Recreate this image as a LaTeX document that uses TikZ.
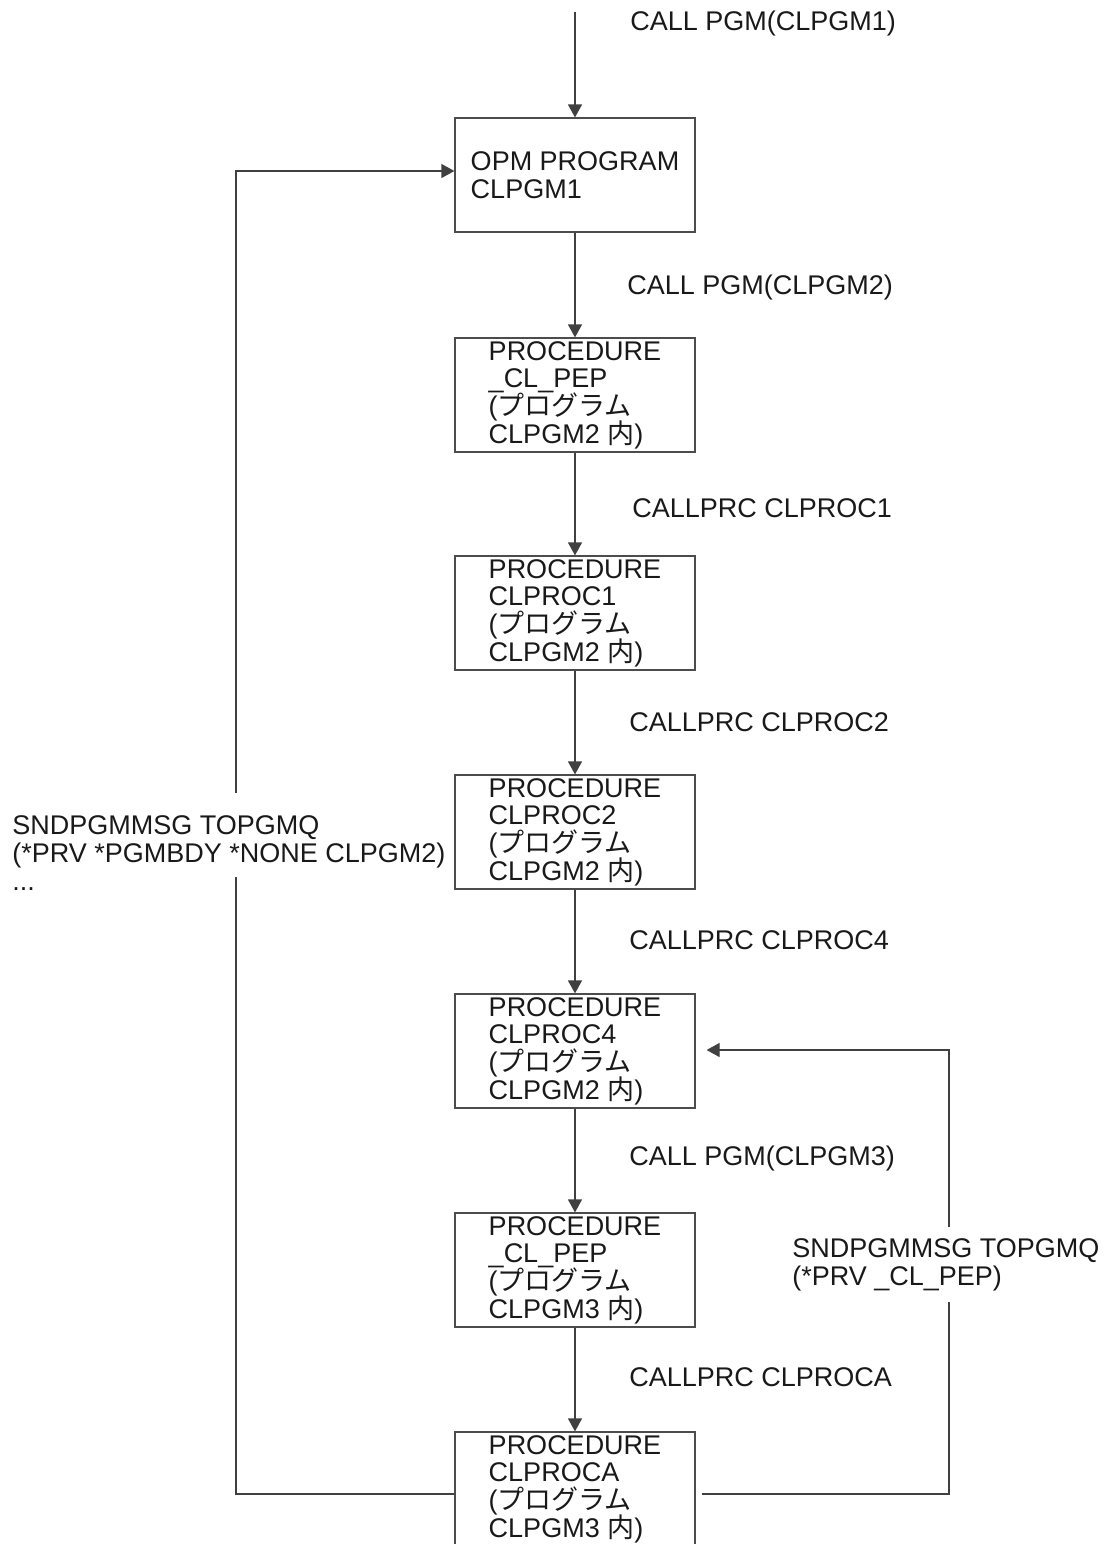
\documentclass[tikz,border=0pt]{standalone}
\usepackage{fontspec}
\setmainfont{Liberation Sans}
\newfontfamily\jpfont{Noto Sans CJK JP}
\usetikzlibrary{arrows.meta}
\newcommand{\tightlines}{\lineskiplimit=-10pt\relax}

\tikzset{
  proc/.style={draw=black!70, line width=0.6pt, minimum width=120pt, minimum height=57pt, align=left, inner sep=0pt},
  lbl/.style={anchor=west, align=left, inner sep=0pt},
  flow/.style={draw=black!75, line width=0.6pt},
  arr/.style={flow, -{Triangle[length=6.5pt,width=7pt]}}
}

\begin{document}
\begin{tikzpicture}[x=0.5pt, y=-0.5pt, font=\fontsize{13.5}{13.8}\selectfont\tightlines, text=black!90]
\useasboundingbox (0,0) rectangle (1105,1544);

% Procedure boxes
\node[proc] (b1) at (575,175) {OPM PROGRAM\\CLPGM1};
\node[proc] (b2) at (575,395) {PROCEDURE\\\_CL\_PEP\\({\jpfont プログラム}\\CLPGM2 {\jpfont 内})};
\node[proc] (b3) at (575,613) {PROCEDURE\\CLPROC1\\({\jpfont プログラム}\\CLPGM2 {\jpfont 内})};
\node[proc] (b4) at (575,832) {PROCEDURE\\CLPROC2\\({\jpfont プログラム}\\CLPGM2 {\jpfont 内})};
\node[proc] (b5) at (575,1051) {PROCEDURE\\CLPROC4\\({\jpfont プログラム}\\CLPGM2 {\jpfont 内})};
\node[proc] (b6) at (575,1270) {PROCEDURE\\\_CL\_PEP\\({\jpfont プログラム}\\CLPGM3 {\jpfont 内})};
\node[proc] (b7) at (575,1489) {PROCEDURE\\CLPROCA\\({\jpfont プログラム}\\CLPGM3 {\jpfont 内})};

% Call labels
\node[lbl] (c1) at (630,24) {CALL PGM(CLPGM1)};
\node[lbl] (c2) at (627,288) {CALL PGM(CLPGM2)};
\node[lbl] (c3) at (632,508) {CALLPRC CLPROC1};
\node[lbl] (c4) at (629,722) {CALLPRC CLPROC2};
\node[lbl] (c5) at (629,940) {CALLPRC CLPROC4};
\node[lbl] (c6) at (629,1158) {CALL PGM(CLPGM3)};
\node[lbl] (c7) at (629,1377) {CALLPRC CLPROCA};

% Message labels
\node[lbl] (msgL) at (12,853) {SNDPGMMSG TOPGMQ\\(*PRV *PGMBDY *NONE CLPGM2)\\...};
\node[lbl] (msgR) at (792,1265) {SNDPGMMSG TOPGMQ\\(*PRV \_CL\_PEP)};

% Call chain
\coordinate (top) at (575,12);
\draw[arr] (top) -- (b1.north);
\foreach \a/\b in {b1/b2, b2/b3, b3/b4, b4/b5, b5/b6, b6/b7}
    \draw[arr] (\a.south) -- (\b.north);

% Return to CLPGM1
\coordinate (lbot) at (236,1494);
\coordinate (lgapB) at (236,877);
\coordinate (lgapT) at (236,793);
\coordinate (ltop) at (236,171);
\draw[flow] (b7.west |- lbot) -- (lbot) -- (lgapB);
\draw[arr] (lgapT) -- (ltop) -- (b1.west |- ltop);

% Return to CLPROC4
\coordinate (rbot) at (949,1494);
\coordinate (rgapB) at (949,1302);
\coordinate (rgapT) at (949,1227);
\coordinate (rtop) at (949,1050);
\draw[flow, shorten <=3pt] (b7.east |- rbot) -- (rbot) -- (rgapB);
\draw[arr, shorten >=5.5pt] (rgapT) -- (rtop) -- (b5.east |- rtop);
\end{tikzpicture}
\end{document}
